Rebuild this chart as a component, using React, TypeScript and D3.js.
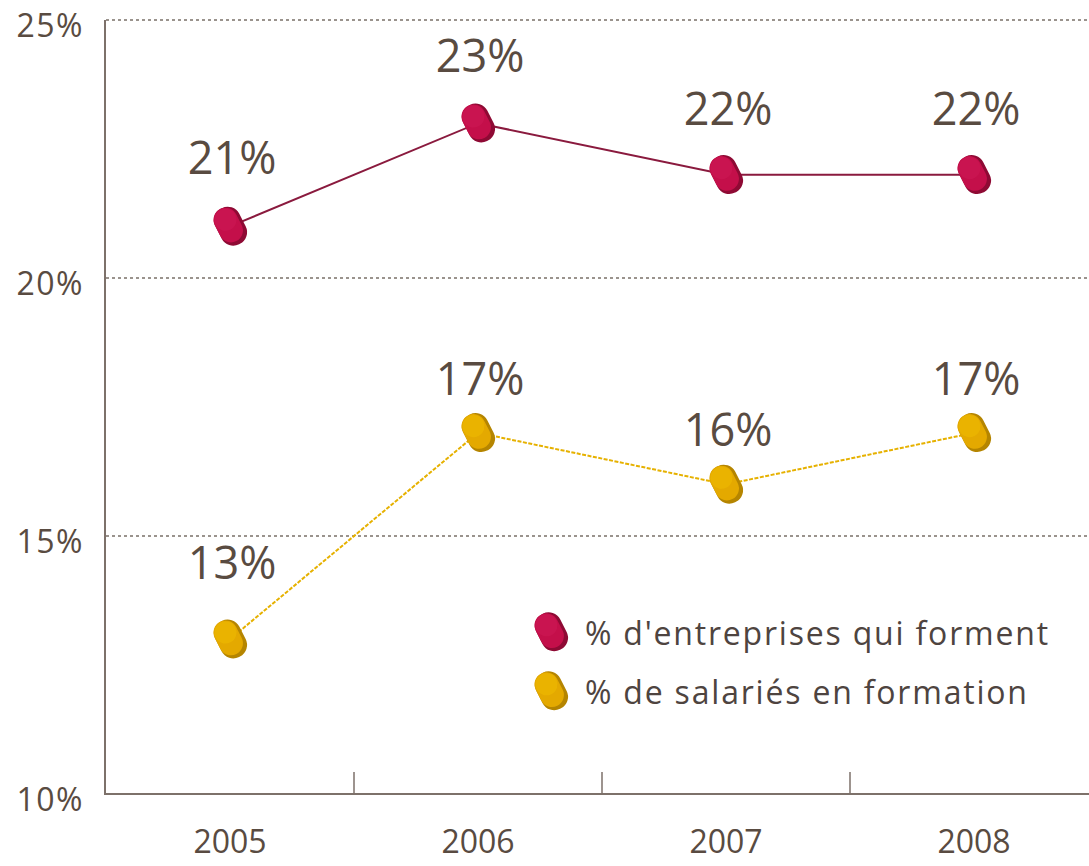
import React from "react";
import * as d3 from "d3";

const years = ["2005", "2006", "2007", "2008"];
const entreprises = [21, 23, 22, 22];
const salaries = [13, 17, 16, 17];
const yTicks = [10, 15, 20, 25];
const seriesNames = ["% d'entreprises qui forment", "% de salariés en formation"];

const W = 1089, H = 866;
const left = 106, right = 1098, top = 20, bottom = 794;

export default function App() {
  const x = d3.scaleBand<string>().domain(years).range([left, right]);
  const y = d3.scaleLinear().domain([10, 25]).range([bottom, top]);
  const cx = (d: string) => (x(d) as number) + x.bandwidth() / 2;

  const line = d3.line<[number, number]>().x(d => d[0]).y(d => d[1]);

  const series = [
    { name: seriesNames[0], values: entreprises, line: "#8a1a3e", main: "#c40f4a", dark: "#8e0a34", light: "#cc1752", dash: undefined, dy: [-52, -51, -50, -50] },
    { name: seriesNames[1], values: salaries, line: "#e6b100", main: "#e4a900", dark: "#b58500", light: "#ecb800", dash: "4,1.5", dy: [-60, -38, -38, -38] },
  ];

  const font = "'Open Sans', 'Noto Sans', sans-serif";
  const textColor = "#594b41";

  const Marker = ({ px, py, s }: { px: number; py: number; s: typeof series[0] }) => (
    <g transform={`translate(${px},${py}) rotate(-27)`}>
      <rect x={-13} y={-20} width={27} height={40} rx={13} ry={13} fill={s.dark} />
      <rect x={-13} y={-20} width={24} height={36} rx={12} ry={12} fill={s.main} />
      <ellipse cx={-1} cy={-8} rx={11} ry={11} fill={s.light} opacity={0.7} />
    </g>
  );

  return (
    <svg width={W} height={H} style={{ position: "absolute", left: 0, top: 0, background: "#fff" }}>
      {yTicks.filter(t => t > 10).map(t => (
        <line key={t} x1={left} x2={W} y1={y(t)} y2={y(t)} stroke="#7a7068" strokeWidth={1.5} strokeDasharray="3,3" />
      ))}
      <line x1={105} x2={105} y1={top} y2={bottom} stroke="#7d716a" strokeWidth={2} />
      <line x1={104} x2={W} y1={bottom} y2={bottom} stroke="#7d716a" strokeWidth={2} />
      {years.slice(1).map(yr => (
        <line key={yr} x1={x(yr)} x2={x(yr)} y1={bottom - 22} y2={bottom} stroke="#7d716a" strokeWidth={1.5} />
      ))}
      {yTicks.map(t => (
        <text key={t} x={84} y={y(t) + 17} textAnchor="end" fontFamily={font} fontSize={32} letterSpacing={1.5} fill={textColor}>{t}%</text>
      ))}
      {years.map(yr => (
        <text key={yr} x={cx(yr)} y={853} textAnchor="middle" fontFamily={font} fontSize={32} fill={textColor}>{yr}</text>
      ))}
      {series.map((s, si) => {
        const pts: [number, number][] = s.values.map((v, i) => [cx(years[i]), y(v)]);
        return (
          <g key={si}>
            <path d={line(pts) as string} fill="none" stroke={s.line} strokeWidth={2} strokeDasharray={s.dash} />
            {pts.map((p, i) => (
              <g key={i}>
                <Marker px={p[0]} py={p[1]} s={s} />
                <text x={p[0] + 2} y={p[1] + s.dy[i]} textAnchor="middle" fontFamily={font} fontSize={45} fill={textColor}>{s.values[i]}%</text>
              </g>
            ))}
          </g>
        );
      })}
      {series.map((s, i) => (
        <g key={i}>
          <Marker px={551} py={632 + i * 59} s={s} />
          <text x={585} y={645 + i * 59} fontFamily={font} fontSize={32} letterSpacing={1.8} fill="#4e4440">{s.name}</text>
        </g>
      ))}
    </svg>
  );
}
